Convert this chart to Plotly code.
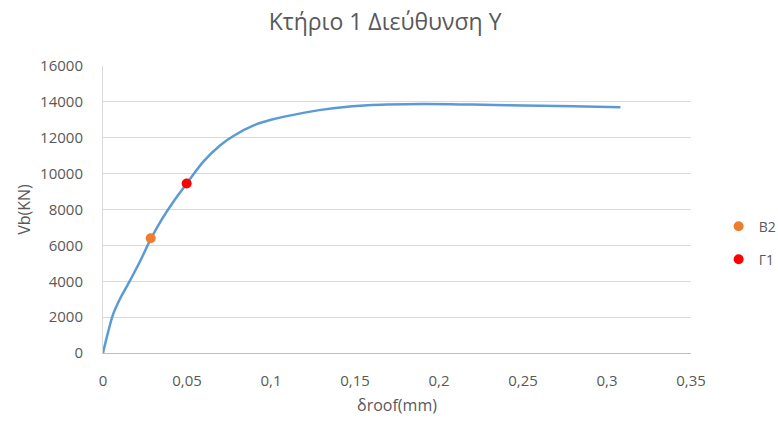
import plotly.graph_objects as go

# Pushover curve data
droof = [0, 0.003, 0.006, 0.01, 0.015, 0.022, 0.0284, 0.035, 0.042, 0.0498, 0.06, 0.07, 0.0776,
         0.09, 0.1, 0.12, 0.137, 0.16, 0.19, 0.22, 0.25, 0.28, 0.308]
vb = [0, 1150, 2150, 3000, 3850, 5100, 6350, 7450, 8450, 9440, 10700, 11600, 12100,
      12700, 13000, 13400, 13640, 13820, 13880, 13850, 13800, 13750, 13700]

# Performance points
b2_x = [0.0284]
b2_y = [6400]
g1_x = [0.0498]
g1_y = [9450]

x_tickvals = [0, 0.05, 0.1, 0.15, 0.2, 0.25, 0.3, 0.35]
x_ticktext = ["0", "0,05", "0,1", "0,15", "0,2", "0,25", "0,3", "0,35"]
y_tickvals = [0, 2000, 4000, 6000, 8000, 10000, 12000, 14000, 16000]
y_ticktext = ["0", "2000", "4000", "6000", "8000", "10000", "12000", "14000", "16000"]

font_family = "Open Sans, Liberation Sans, sans-serif"
gray = "#595959"

fig = go.Figure()
fig.add_trace(go.Scatter(x=droof, y=vb, mode="lines", line=dict(color="#5B9BD5", width=2.5, shape="spline"),
                         showlegend=False, hoverinfo="skip"))
fig.add_trace(go.Scatter(x=b2_x, y=b2_y, mode="markers", name="B2",
                         marker=dict(color="#ED7D31", size=10), legend="legend"))
fig.add_trace(go.Scatter(x=g1_x, y=g1_y, mode="markers", name="Γ1",
                         marker=dict(color="#FF0000", size=10), legend="legend2"))

legend_common = dict(font=dict(family=font_family, size=14, color=gray), bgcolor="rgba(0,0,0,0)",
                     xanchor="left", yanchor="middle", itemwidth=30)

fig.update_layout(
    width=778, height=421,
    margin=dict(l=103, r=87, t=66, b=68, autoexpand=False),
    paper_bgcolor="white", plot_bgcolor="white",
    font=dict(family=font_family, color=gray),
    title=dict(text="Κτήριο 1 Διεύθυνση Y", x=0.495, xanchor="center", y=0.948, yanchor="middle",
               font=dict(size=23, color=gray)),
    legend=dict(x=1.047, y=0.44, **legend_common),
    legend2=dict(x=1.047, y=0.325, **legend_common),
    xaxis=dict(range=[0, 0.35], tickvals=x_tickvals, ticktext=x_ticktext, showgrid=False,
               showline=True, linecolor="#BFBFBF", linewidth=1, zeroline=False,
               ticks="outside", ticklen=0, ticklabelstandoff=14,
               tickfont=dict(size=15, color=gray),
               title=dict(text="δroof(mm)", font=dict(size=16, color=gray), standoff=10)),
    yaxis=dict(range=[0, 16000], tickvals=y_tickvals, ticktext=y_ticktext, showgrid=True,
               gridcolor="#D9D9D9", gridwidth=1, showline=True, linecolor="#D9D9D9", linewidth=1,
               zeroline=False, ticks="outside", ticklen=0, ticklabelstandoff=16,
               tickfont=dict(size=15, color=gray),
               title=dict(text="Vb(KN)", font=dict(size=16, color=gray), standoff=5)),
)

fig.write_html("out.html")
